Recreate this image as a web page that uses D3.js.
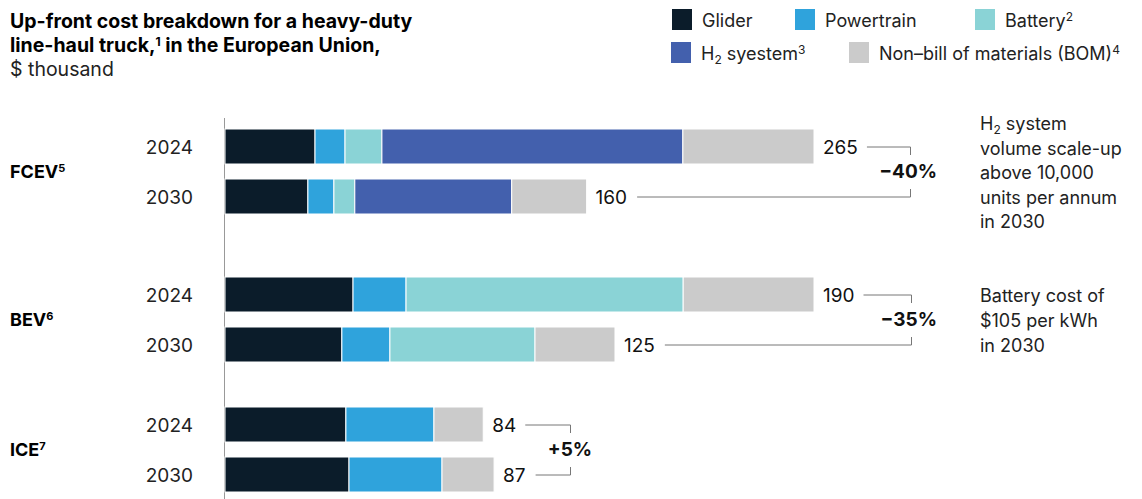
<!DOCTYPE html>
<html>
<head>
<meta charset="utf-8">
<script src="https://cdn.jsdelivr.net/npm/d3@7"></script>
<style>
body { margin: 0; background: #fff; }
svg { font-family: Inter, "Liberation Sans", Arial, sans-serif; }
</style>
</head>
<body>
<div class="container"></div>
<script>
var segments = ['Glider', 'Powertrain', 'Battery', 'H2', 'NonBOM'];
var colors = ['#0b1c2a', '#2fa3dc', '#8ad3d6', '#4360ad', '#cbcbcb'];
var groups = ['FCEV', 'BEV', 'ICE'];
var groupSup = ['5', '6', '7'];
var years = ['2024', '2030'];

// segment values, $ thousand (Glider, Powertrain, Battery, H2, Non-BOM)
var fcev2024 = [40.5, 13.5, 16.6, 135.4, 59];
var fcev2030 = [37.3, 11.7, 9.4, 70.6, 33.7];
var bev2024 = [41.3, 17.1, 89.4, 0, 42.2];
var bev2030 = [37.7, 15.5, 46.8, 0, 25.8];
var ice2024 = [39, 28.4, 0, 0, 15.9];
var ice2030 = [40, 30, 0, 0, 16.8];
var totals = [[265, 160], [190, 125], [84, 87]];
var changes = ['\u221240%', '\u221235%', '+5%'];
// FCEV is drawn on its own (compressed) scale in the original
var groupMax = [265, 190, 190];

var rows = [[fcev2024, fcev2030], [bev2024, bev2030], [ice2024, ice2030]];

var WIDTH = 1142, HEIGHT = 499;
var X0 = 225, BARW = 589;
var groupTop = [129, 277, 407];
var BARH = 35, PITCH = 50;

var svg = d3.select('.container').append('svg')
	.attr('width', WIDTH)
	.attr('height', HEIGHT);

// title
var title = svg.append('text').attr('x', 10).attr('y', 28).attr('font-size', 19.5).attr('fill', '#000');
title.append('tspan').attr('x', 10).attr('font-weight', 'bold').text('Up-front cost breakdown for a heavy-duty');
var t2 = title.append('tspan').attr('x', 10).attr('dy', 24).attr('font-weight', 'bold');
t2.append('tspan').text('line-haul truck,');
t2.append('tspan').attr('font-size', 12).attr('dy', -6).text('1');
t2.append('tspan').attr('dy', 6).text(' in the European Union,');
title.append('tspan').attr('x', 10).attr('dy', 24).attr('fill', '#222').text('$ thousand');

// legend
var legendItems = [
	{i: 0, x: 672, y: 9, label: 'Glider', sup: ''},
	{i: 1, x: 795, y: 9, label: 'Powertrain', sup: ''},
	{i: 2, x: 975, y: 9, label: 'Battery', sup: '2'},
	{i: 3, x: 671, y: 42, label: 'H', sub: '2', rest: ' syestem', sup: '3'},
	{i: 4, x: 849, y: 42, label: 'Non\u2013bill of materials (BOM)', sup: '4'}
];
legendItems.forEach(function(d) {
	svg.append('rect').attr('x', d.x).attr('y', d.y).attr('width', 20).attr('height', 21).attr('fill', colors[d.i]);
	var t = svg.append('text').attr('x', d.x + 30).attr('y', d.y + 18).attr('font-size', 18).attr('fill', '#222');
	t.append('tspan').text(d.label);
	if (d.sub) {
		t.append('tspan').attr('font-size', 12).attr('dy', 4).text(d.sub);
		t.append('tspan').attr('dy', -4).text(d.rest);
	}
	if (d.sup) t.append('tspan').attr('font-size', 12).attr('dy', -6).text(d.sup);
});

// vertical axis line
svg.append('line').attr('x1', X0 - 0.5).attr('x2', X0 - 0.5).attr('y1', 118).attr('y2', HEIGHT)
	.attr('stroke', '#999').attr('stroke-width', 1);

groups.forEach(function(g, gi) {
	var xScale = d3.scaleLinear().domain([0, groupMax[gi]]).range([X0, X0 + BARW]);
	var gEl = svg.append('g');

	// group label
	var gl = gEl.append('text').attr('x', 10).attr('y', groupTop[gi] + 49).attr('font-size', 18).attr('font-weight', 'bold').attr('fill', '#000');
	gl.append('tspan').text(g);
	gl.append('tspan').attr('font-size', 11).attr('dy', -6).text(groupSup[gi]);

	var labelEnds = [];
	years.forEach(function(yr, yi) {
		var y = groupTop[gi] + yi * PITCH;
		var vals = rows[gi][yi];
		var stack = [];
		var acc = 0;
		vals.forEach(function(v, si) { stack.push({s: si, x0: acc, x1: acc + v}); acc += v; });

		gEl.append('text').attr('x', 193).attr('y', y + BARH / 2 + 7).attr('text-anchor', 'end')
			.attr('font-size', 19).attr('fill', '#222').text(yr);

		gEl.selectAll('rect.s' + yi).data(stack.filter(function(d) { return d.x1 > d.x0; })).enter()
			.append('rect')
			.attr('x', function(d) { return xScale(d.x0); })
			.attr('width', function(d) { return xScale(d.x1) - xScale(d.x0); })
			.attr('y', y)
			.attr('height', BARH)
			.attr('fill', function(d) { return colors[d.s]; })
			.attr('stroke', '#fff').attr('stroke-width', 1);

		var endX = xScale(acc);
		var lbl = gEl.append('text').attr('x', endX + 9).attr('y', y + BARH / 2 + 7)
			.attr('font-size', 19).attr('fill', '#111').text(totals[gi][yi]);
		labelEnds.push(endX + 9 + lbl.node().getComputedTextLength());
	});

	// bracket
	var bx = [910, 911, 570][gi];
	var yTop = groupTop[gi] + BARH / 2 + 0.5;
	var yBot = groupTop[gi] + PITCH + BARH / 2 + 0.5;
	gEl.append('path')
		.attr('d', 'M' + (labelEnds[0] + 9) + ',' + yTop + 'H' + (bx + 0.5) + 'V' + (yTop + 8))
		.attr('fill', 'none').attr('stroke', '#777').attr('stroke-width', 1);
	gEl.append('path')
		.attr('d', 'M' + (labelEnds[1] + 10) + ',' + yBot + 'H' + (bx + 0.5) + 'V' + (yBot - 8))
		.attr('fill', 'none').attr('stroke', '#777').attr('stroke-width', 1);
	gEl.append('text')
		.attr('x', gi === 2 ? bx : 937)
		.attr('text-anchor', gi === 2 ? 'middle' : 'end')
		.attr('y', groupTop[gi] + PITCH - 1)
		.attr('font-size', 19).attr('font-weight', 'bold').attr('fill', '#111')
		.text(changes[gi]);
});

// side notes
var note1 = ['system', 'volume scale-up', 'above 10,000', 'units per annum', 'in 2030'];
var note2 = ['Battery cost of', '$105 per kWh', 'in 2030'];
var n1 = svg.append('text').attr('font-size', 18).attr('fill', '#222');
note1.forEach(function(s, i) {
	var t = n1.append('tspan').attr('x', 980).attr('y', 130 + i * 24.5);
	if (i === 0) {
		t.text('H');
		n1.append('tspan').attr('font-size', 12).attr('dy', 4).text('2');
		n1.append('tspan').attr('dy', -4).text(' ' + s);
	} else t.text(s);
});
var n2 = svg.append('text').attr('font-size', 18).attr('fill', '#222');
note2.forEach(function(s, i) {
	n2.append('tspan').attr('x', 980).attr('y', 302 + i * 25).text(s);
});
</script>
</body>
</html>
